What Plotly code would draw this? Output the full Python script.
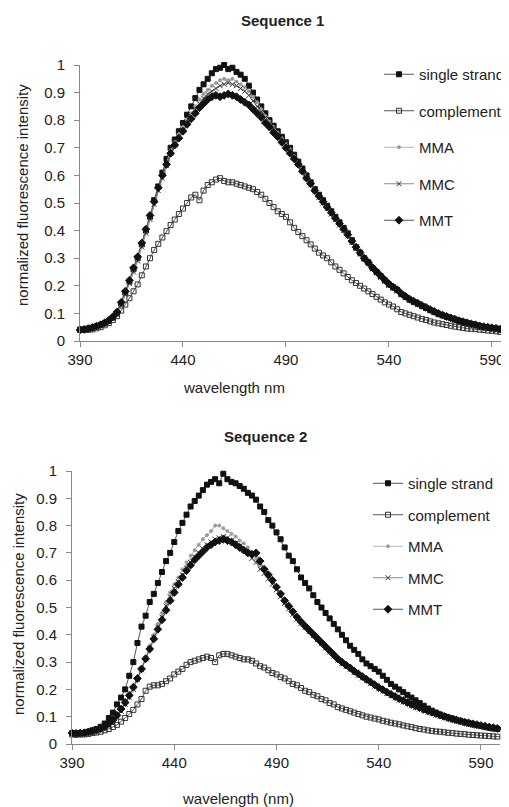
import plotly.graph_objects as go

# wavelength grid (nm), 2 nm steps
wavelength = list(range(390, 601, 2))

# Sequence 1
s1_single = [0.040, 0.042, 0.045, 0.048, 0.053, 0.058, 0.064, 0.072, 0.085, 0.100,
             0.135, 0.175, 0.215, 0.260, 0.300, 0.350, 0.400, 0.450, 0.510, 0.560,
             0.610, 0.660, 0.700, 0.730, 0.760, 0.790, 0.820, 0.850, 0.880, 0.910,
             0.930, 0.950, 0.970, 0.985, 0.990, 1.000, 0.985, 0.990, 0.975, 0.965,
             0.950, 0.925, 0.900, 0.875, 0.850, 0.825, 0.800, 0.780, 0.760, 0.740,
             0.720, 0.700, 0.675, 0.650, 0.625, 0.600, 0.575, 0.550, 0.530, 0.510,
             0.490, 0.470, 0.450, 0.430, 0.410, 0.390, 0.365, 0.340, 0.320, 0.300,
             0.285, 0.265, 0.250, 0.235, 0.220, 0.205, 0.195, 0.185, 0.170, 0.160,
             0.150, 0.142, 0.135, 0.127, 0.120, 0.112, 0.105, 0.098, 0.093, 0.088,
             0.083, 0.078, 0.073, 0.069, 0.065, 0.061, 0.058, 0.054, 0.051, 0.049,
             0.047, 0.045, 0.042, 0.040, 0.038, 0.036]
s1_complement = [0.042, 0.040, 0.041, 0.042, 0.046, 0.050, 0.057, 0.065, 0.076, 0.090,
                 0.110, 0.132, 0.155, 0.180, 0.205, 0.238, 0.270, 0.300, 0.330, 0.352,
                 0.375, 0.398, 0.420, 0.440, 0.460, 0.480, 0.500, 0.520, 0.530, 0.510,
                 0.545, 0.565, 0.575, 0.585, 0.590, 0.580, 0.575, 0.575, 0.570, 0.565,
                 0.560, 0.555, 0.550, 0.540, 0.530, 0.515, 0.500, 0.485, 0.470, 0.460,
                 0.450, 0.430, 0.410, 0.395, 0.380, 0.365, 0.350, 0.335, 0.320, 0.310,
                 0.300, 0.285, 0.270, 0.258, 0.245, 0.232, 0.220, 0.210, 0.200, 0.190,
                 0.180, 0.170, 0.160, 0.150, 0.140, 0.132, 0.125, 0.115, 0.105, 0.100,
                 0.095, 0.090, 0.085, 0.080, 0.076, 0.071, 0.067, 0.064, 0.061, 0.058,
                 0.055, 0.052, 0.050, 0.047, 0.045, 0.044, 0.043, 0.041, 0.040, 0.038,
                 0.037, 0.035, 0.033, 0.032, 0.030, 0.029]
s1_mma = [0.040, 0.041, 0.044, 0.047, 0.052, 0.057, 0.063, 0.071, 0.083, 0.098,
          0.130, 0.170, 0.210, 0.255, 0.295, 0.345, 0.395, 0.445, 0.500, 0.550,
          0.600, 0.645, 0.690, 0.720, 0.750, 0.775, 0.800, 0.825, 0.850, 0.875,
          0.895, 0.910, 0.925, 0.935, 0.945, 0.950, 0.945, 0.950, 0.940, 0.930,
          0.920, 0.905, 0.885, 0.865, 0.840, 0.815, 0.795, 0.775, 0.755, 0.735,
          0.715, 0.695, 0.670, 0.645, 0.620, 0.595, 0.570, 0.545, 0.525, 0.505,
          0.485, 0.465, 0.445, 0.425, 0.405, 0.385, 0.360, 0.338, 0.318, 0.298,
          0.282, 0.263, 0.248, 0.233, 0.218, 0.204, 0.193, 0.183, 0.169, 0.159,
          0.149, 0.141, 0.134, 0.126, 0.119, 0.111, 0.104, 0.097, 0.092, 0.087,
          0.082, 0.077, 0.072, 0.068, 0.064, 0.060, 0.057, 0.053, 0.050, 0.048,
          0.046, 0.044, 0.041, 0.039, 0.037, 0.035]
s1_mmc = [0.038, 0.040, 0.043, 0.047, 0.051, 0.056, 0.062, 0.070, 0.082, 0.097,
          0.128, 0.168, 0.208, 0.250, 0.290, 0.340, 0.390, 0.440, 0.495, 0.545,
          0.590, 0.635, 0.680, 0.710, 0.740, 0.765, 0.790, 0.815, 0.840, 0.860,
          0.880, 0.895, 0.905, 0.915, 0.925, 0.930, 0.935, 0.930, 0.925, 0.915,
          0.905, 0.890, 0.870, 0.850, 0.830, 0.810, 0.790, 0.770, 0.750, 0.730,
          0.710, 0.690, 0.665, 0.640, 0.615, 0.590, 0.565, 0.540, 0.520, 0.500,
          0.480, 0.460, 0.440, 0.420, 0.400, 0.380, 0.357, 0.335, 0.315, 0.296,
          0.280, 0.261, 0.246, 0.231, 0.216, 0.202, 0.191, 0.181, 0.167, 0.157,
          0.148, 0.140, 0.133, 0.125, 0.118, 0.110, 0.103, 0.096, 0.091, 0.086,
          0.081, 0.076, 0.071, 0.067, 0.063, 0.059, 0.056, 0.052, 0.049, 0.047,
          0.045, 0.043, 0.040, 0.038, 0.036, 0.034]
s1_mmt = [0.040, 0.042, 0.045, 0.049, 0.054, 0.059, 0.066, 0.075, 0.088, 0.105,
          0.140, 0.180, 0.220, 0.265, 0.305, 0.355, 0.405, 0.455, 0.505, 0.555,
          0.600, 0.640, 0.680, 0.710, 0.735, 0.760, 0.785, 0.805, 0.825, 0.845,
          0.860, 0.875, 0.885, 0.890, 0.885, 0.890, 0.895, 0.890, 0.885, 0.875,
          0.865, 0.855, 0.840, 0.825, 0.810, 0.790, 0.775, 0.755, 0.740, 0.720,
          0.700, 0.680, 0.660, 0.640, 0.615, 0.590, 0.570, 0.545, 0.525, 0.505,
          0.485, 0.465, 0.445, 0.425, 0.405, 0.385, 0.362, 0.340, 0.320, 0.300,
          0.284, 0.266, 0.251, 0.236, 0.221, 0.207, 0.196, 0.186, 0.172, 0.162,
          0.152, 0.144, 0.137, 0.129, 0.122, 0.114, 0.107, 0.100, 0.094, 0.089,
          0.084, 0.079, 0.074, 0.070, 0.066, 0.062, 0.059, 0.055, 0.052, 0.050,
          0.048, 0.046, 0.043, 0.041, 0.039, 0.037]

# Sequence 2
s2_single = [0.040, 0.038, 0.040, 0.041, 0.045, 0.050, 0.055, 0.063, 0.075, 0.095,
             0.115, 0.145, 0.170, 0.200, 0.250, 0.300, 0.370, 0.430, 0.470, 0.520,
             0.550, 0.590, 0.630, 0.670, 0.700, 0.740, 0.780, 0.810, 0.840, 0.870,
             0.890, 0.910, 0.930, 0.950, 0.960, 0.970, 0.955, 0.990, 0.970, 0.960,
             0.955, 0.945, 0.935, 0.920, 0.910, 0.895, 0.870, 0.850, 0.820, 0.800,
             0.775, 0.750, 0.720, 0.690, 0.670, 0.640, 0.610, 0.590, 0.570, 0.545,
             0.520, 0.500, 0.480, 0.460, 0.440, 0.420, 0.400, 0.380, 0.360, 0.345,
             0.330, 0.310, 0.295, 0.285, 0.275, 0.265, 0.250, 0.235, 0.220, 0.210,
             0.200, 0.190, 0.180, 0.170, 0.160, 0.150, 0.140, 0.130, 0.122, 0.115,
             0.108, 0.102, 0.097, 0.093, 0.088, 0.084, 0.080, 0.076, 0.072, 0.069,
             0.066, 0.063, 0.060, 0.057, 0.055, 0.052]
s2_complement = [0.035, 0.034, 0.035, 0.035, 0.037, 0.040, 0.042, 0.045, 0.050, 0.055,
                 0.062, 0.070, 0.082, 0.095, 0.110, 0.125, 0.145, 0.165, 0.195, 0.210,
                 0.215, 0.215, 0.220, 0.230, 0.240, 0.255, 0.265, 0.275, 0.290, 0.300,
                 0.305, 0.310, 0.315, 0.320, 0.315, 0.300, 0.325, 0.330, 0.330, 0.325,
                 0.320, 0.315, 0.310, 0.310, 0.305, 0.295, 0.285, 0.280, 0.270, 0.260,
                 0.255, 0.245, 0.240, 0.230, 0.220, 0.215, 0.205, 0.195, 0.190, 0.180,
                 0.175, 0.165, 0.160, 0.150, 0.145, 0.135, 0.130, 0.125, 0.120, 0.115,
                 0.110, 0.105, 0.100, 0.097, 0.093, 0.090, 0.085, 0.082, 0.078, 0.075,
                 0.072, 0.068, 0.065, 0.062, 0.058, 0.055, 0.053, 0.050, 0.048, 0.046,
                 0.045, 0.043, 0.041, 0.040, 0.038, 0.037, 0.036, 0.034, 0.033, 0.032,
                 0.031, 0.030, 0.029, 0.028, 0.027, 0.026]
s2_mma = [0.038, 0.037, 0.039, 0.040, 0.043, 0.046, 0.050, 0.055, 0.062, 0.072,
          0.085, 0.100, 0.125, 0.150, 0.175, 0.205, 0.240, 0.280, 0.320, 0.360,
          0.400, 0.440, 0.480, 0.520, 0.555, 0.585, 0.610, 0.640, 0.665, 0.690,
          0.710, 0.730, 0.750, 0.765, 0.780, 0.800, 0.800, 0.790, 0.780, 0.770,
          0.760, 0.745, 0.735, 0.720, 0.700, 0.680, 0.655, 0.635, 0.615, 0.590,
          0.570, 0.545, 0.520, 0.500, 0.480, 0.460, 0.445, 0.430, 0.415, 0.400,
          0.385, 0.370, 0.355, 0.340, 0.325, 0.310, 0.298, 0.287, 0.277, 0.265,
          0.255, 0.245, 0.235, 0.225, 0.215, 0.205, 0.197, 0.188, 0.180, 0.172,
          0.164, 0.157, 0.150, 0.143, 0.137, 0.131, 0.125, 0.120, 0.114, 0.109,
          0.104, 0.099, 0.094, 0.090, 0.086, 0.082, 0.078, 0.075, 0.072, 0.069,
          0.066, 0.063, 0.060, 0.058, 0.055, 0.053]
s2_mmc = [0.037, 0.038, 0.038, 0.040, 0.042, 0.045, 0.049, 0.054, 0.060, 0.070,
          0.082, 0.097, 0.120, 0.145, 0.170, 0.200, 0.235, 0.272, 0.312, 0.350,
          0.390, 0.428, 0.465, 0.505, 0.540, 0.570, 0.595, 0.620, 0.645, 0.665,
          0.685, 0.700, 0.715, 0.730, 0.740, 0.750, 0.755, 0.760, 0.755, 0.745,
          0.735, 0.725, 0.710, 0.700, 0.680, 0.665, 0.640, 0.625, 0.605, 0.585,
          0.565, 0.540, 0.515, 0.495, 0.475, 0.457, 0.442, 0.427, 0.412, 0.397,
          0.382, 0.367, 0.352, 0.337, 0.322, 0.307, 0.295, 0.284, 0.274, 0.262,
          0.252, 0.242, 0.232, 0.222, 0.212, 0.202, 0.194, 0.185, 0.177, 0.169,
          0.161, 0.154, 0.147, 0.140, 0.134, 0.128, 0.122, 0.117, 0.111, 0.106,
          0.101, 0.096, 0.091, 0.087, 0.083, 0.079, 0.075, 0.072, 0.069, 0.066,
          0.063, 0.060, 0.057, 0.055, 0.052, 0.050]
s2_mmt = [0.040, 0.039, 0.040, 0.041, 0.044, 0.047, 0.051, 0.057, 0.064, 0.075,
          0.088, 0.105, 0.128, 0.152, 0.178, 0.208, 0.240, 0.275, 0.312, 0.348,
          0.385, 0.420, 0.455, 0.490, 0.525, 0.555, 0.585, 0.610, 0.635, 0.655,
          0.675, 0.690, 0.705, 0.720, 0.730, 0.740, 0.745, 0.750, 0.745, 0.740,
          0.730, 0.720, 0.710, 0.700, 0.695, 0.700, 0.670, 0.640, 0.620, 0.600,
          0.575, 0.550, 0.525, 0.505, 0.485, 0.465, 0.448, 0.432, 0.417, 0.402,
          0.387, 0.372, 0.357, 0.342, 0.327, 0.312, 0.300, 0.289, 0.279, 0.267,
          0.257, 0.247, 0.237, 0.227, 0.217, 0.207, 0.199, 0.190, 0.182, 0.174,
          0.166, 0.159, 0.152, 0.145, 0.139, 0.133, 0.127, 0.121, 0.116, 0.111,
          0.106, 0.101, 0.096, 0.092, 0.088, 0.084, 0.080, 0.077, 0.074, 0.071,
          0.068, 0.065, 0.062, 0.060, 0.057, 0.055]

series_names = ["single strand", "complement", "MMA", "MMC", "MMT"]
seq1 = [s1_single, s1_complement, s1_mma, s1_mmc, s1_mmt]
seq2 = [s2_single, s2_complement, s2_mma, s2_mmc, s2_mmt]

# Excel-like marker styles: (symbol, size, marker colour, line colour)
styles = [
    ("square", 5, "#111111", "#555555"),
    ("square-open", 5, "#333333", "#555555"),
    ("circle", 3, "#9a9a9a", "#b5b5b5"),
    ("x-thin-open", 5, "#333333", "#8a8a8a"),
    ("diamond", 6, "#111111", "#555555"),
]

FONT = "Liberation Sans, Arial, sans-serif"

# the page body keeps its default 8px margin, so the figure is sized to fit
# the window and positions below are given in window pixels minus that margin
PAGE_MARGIN = 8
W, H = 509 - PAGE_MARGIN, 807 - PAGE_MARGIN


def fx(px):
    return (px - PAGE_MARGIN) / W


def fy(py):
    return (H - (py - PAGE_MARGIN)) / H


fig = go.Figure()


def add_sequence(values, xa, ya, legend):
    for name, y, (sym, size, mcol, lcol) in zip(series_names, values, styles):
        fig.add_trace(go.Scatter(
            x=wavelength, y=y, name=name,
            mode="lines+markers",
            xaxis=xa, yaxis=ya,
            legend=legend, legendgroup=legend + name,
            line=dict(color=lcol, width=1),
            marker=dict(symbol=sym, size=size, color=mcol,
                        line=dict(width=1, color=mcol)),
            cliponaxis=False,
        ))


add_sequence(seq1, "x", "y", "legend")
add_sequence(seq2, "x2", "y2", "legend2")

axis_common = dict(
    showgrid=False, zeroline=False,
    showline=True, linecolor="#888888", linewidth=1,
    ticks="outside", ticklen=5, tickcolor="#888888",
    tickfont=dict(family=FONT, size=15, color="#222222"),
)

legend_font = dict(family=FONT, size=15, color="#222222")

fig.update_layout(
    width=W, height=H,
    margin=dict(l=0, r=0, t=0, b=0, autoexpand=False),
    paper_bgcolor="white", plot_bgcolor="white",
    font=dict(family=FONT, color="#222222"),
    xaxis=dict(domain=[fx(80), 1.0], range=[390, 598.3], tick0=390, dtick=50,
               anchor="y", **axis_common),
    yaxis=dict(domain=[fy(341), fy(65)], range=[0, 1], dtick=0.1,
               anchor="x", ticklabelstandoff=6, **axis_common),
    xaxis2=dict(domain=[fx(72), fx(500)], range=[390, 599.3], tick0=390, dtick=50,
                anchor="y2", **axis_common),
    yaxis2=dict(domain=[fy(744), fy(471)], range=[0, 1], dtick=0.1,
                anchor="x2", ticklabelstandoff=6, **axis_common),
    legend=dict(x=fx(379), y=fy(58), xanchor="left", yanchor="top",
                font=legend_font, tracegroupgap=14, bgcolor="rgba(0,0,0,0)",
                itemwidth=30),
    legend2=dict(x=fx(368), y=fy(467), xanchor="left", yanchor="top",
                 font=legend_font, tracegroupgap=9, bgcolor="rgba(0,0,0,0)",
                 itemwidth=30),
    showlegend=True,
)

# titles and axis labels
labels = [
    ("<b>Sequence 1</b>", 282, 20, 0),
    ("<b>Sequence 2</b>", 265, 437, 0),
    ("wavelength nm", 234, 388, 0),
    ("wavelength (nm)", 238, 798, 0),
    ("normalized fluorescence intensity", 22, 195, -90),
    ("normalized fluorescence intensity", 18, 604, -90),
]
for text, px, py, ang in labels:
    fig.add_annotation(text=text, x=fx(px), y=fy(py), xref="paper", yref="paper",
                       xanchor="center", yanchor="middle", showarrow=False, textangle=ang,
                       font=dict(family=FONT, size=15, color="#222222"))

fig.write_html("out.html")
